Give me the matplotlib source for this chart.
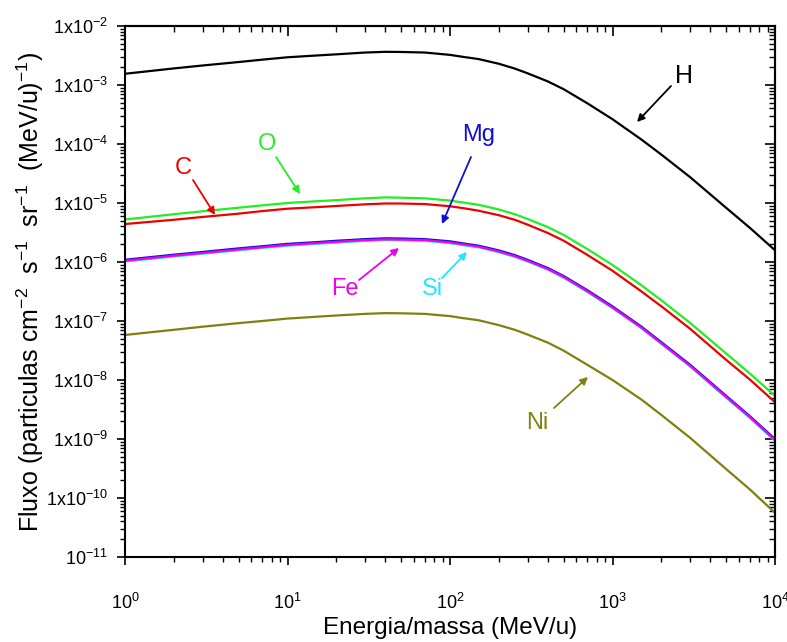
import numpy as np
import matplotlib
matplotlib.use("Agg")
import matplotlib.pyplot as plt
from matplotlib.ticker import LogLocator, FixedLocator, FixedFormatter, NullFormatter

plt.rcParams['font.family'] = ['Liberation Sans', 'DejaVu Sans']
plt.rcParams['mathtext.fontset'] = 'custom'
plt.rcParams['mathtext.rm'] = 'Liberation Sans'
plt.rcParams['mathtext.it'] = 'Liberation Sans:italic'
plt.rcParams['mathtext.bf'] = 'Liberation Sans:bold'

# Energy per nucleon (MeV/u)
energy = [1, 2, 3, 5, 7, 10, 15, 20, 30, 40, 50, 70, 100, 120, 150, 200, 250,
          300, 400, 500, 700, 1000, 1500, 2000, 3000, 5000, 7000, 10000]

flux_H = [1.55e-3, 1.91e-3, 2.14e-3, 2.45e-3, 2.69e-3, 2.95e-3, 3.16e-3, 3.31e-3,
          3.55e-3, 3.65e-3, 3.63e-3, 3.55e-3, 3.24e-3, 3.0e-3, 2.75e-3, 2.29e-3,
          1.9e-3, 1.58e-3, 1.15e-3, 8.5e-4, 4.9e-4, 2.63e-4, 1.2e-4, 6.6e-5,
          2.75e-5, 8.3e-6, 3.8e-6, 1.58e-6]
flux_O = [5.25e-6, 6.46e-6, 7.24e-6, 8.32e-6, 9.12e-6, 1.0e-5, 1.07e-5, 1.12e-5,
          1.2e-5, 1.245e-5, 1.23e-5, 1.2e-5, 1.1e-5, 1.02e-5, 9.33e-6, 7.76e-6,
          6.46e-6, 5.37e-6, 3.9e-6, 2.88e-6, 1.66e-6, 8.9e-7, 4.07e-7, 2.24e-7,
          9.3e-8, 2.82e-8, 1.29e-8, 5.37e-9]
flux_C = [4.4e-6, 5.2e-6, 5.8e-6, 6.6e-6, 7.3e-6, 8.0e-6, 8.5e-6, 8.9e-6,
          9.5e-6, 9.8e-6, 9.8e-6, 9.6e-6, 8.8e-6, 8.2e-6, 7.4e-6, 6.2e-6,
          5.2e-6, 4.3e-6, 3.1e-6, 2.3e-6, 1.32e-6, 7.1e-7, 3.2e-7, 1.77e-7,
          7.4e-8, 2.2e-8, 1.02e-8, 4.2e-9]
flux_Mg = [1.09e-6, 1.33e-6, 1.48e-6, 1.70e-6, 1.85e-6, 2.03e-6, 2.17e-6, 2.29e-6,
           2.44e-6, 2.52e-6, 2.50e-6, 2.44e-6, 2.24e-6, 2.07e-6, 1.89e-6, 1.57e-6,
           1.31e-6, 1.09e-6, 7.9e-7, 5.8e-7, 3.33e-7, 1.77e-7, 8.1e-8, 4.37e-8,
           1.82e-8, 5.4e-9, 2.44e-9, 1.0e-9]
flux_Si = [1.02e-6, 1.24e-6, 1.38e-6, 1.58e-6, 1.73e-6, 1.89e-6, 2.03e-6, 2.13e-6,
           2.28e-6, 2.35e-6, 2.33e-6, 2.28e-6, 2.09e-6, 1.93e-6, 1.77e-6, 1.46e-6,
           1.22e-6, 1.02e-6, 7.4e-7, 5.4e-7, 3.1e-7, 1.65e-7, 7.6e-8, 4.07e-8,
           1.70e-8, 5.0e-9, 2.28e-9, 9.3e-10]
flux_Fe = [1.05e-6, 1.28e-6, 1.42e-6, 1.63e-6, 1.78e-6, 1.95e-6, 2.09e-6, 2.2e-6,
           2.35e-6, 2.42e-6, 2.4e-6, 2.35e-6, 2.15e-6, 1.99e-6, 1.82e-6, 1.51e-6,
           1.26e-6, 1.05e-6, 7.6e-7, 5.6e-7, 3.2e-7, 1.7e-7, 7.8e-8, 4.2e-8,
           1.75e-8, 5.2e-9, 2.35e-9, 9.6e-10]
flux_Ni = [5.8e-8, 7.1e-8, 8.0e-8, 9.2e-8, 1.0e-7, 1.1e-7, 1.18e-7, 1.24e-7,
           1.32e-7, 1.36e-7, 1.35e-7, 1.32e-7, 1.21e-7, 1.12e-7, 1.03e-7, 8.5e-8,
           7.1e-8, 5.9e-8, 4.3e-8, 3.15e-8, 1.81e-8, 1.0e-8, 4.7e-9, 2.55e-9,
           1.05e-9, 3.1e-10, 1.4e-10, 5.6e-11]

y_ticks = [1e-11, 1e-10, 1e-9, 1e-8, 1e-7, 1e-6, 1e-5, 1e-4, 1e-3, 1e-2]
y_ticklabels = [r"10$^{-11}$", r"1x10$^{-10}$", r"1x10$^{-9}$", r"1x10$^{-8}$",
                r"1x10$^{-7}$", r"1x10$^{-6}$", r"1x10$^{-5}$", r"1x10$^{-4}$",
                r"1x10$^{-3}$", r"1x10$^{-2}$"]
x_ticks = [1, 10, 100, 1000, 10000]
x_ticklabels = [r"10$^{0}$", r"10$^{1}$", r"10$^{2}$", r"10$^{3}$", r"10$^{4}$"]

series = [
    ("H", flux_H, "#000000"),
    ("O", flux_O, "#22ee22"),
    ("C", flux_C, "#ee0000"),
    ("Mg", flux_Mg, "#1010cc"),
    ("Si", flux_Si, "#22e5ff"),
    ("Fe", flux_Fe, "#ee00ee"),
    ("Ni", flux_Ni, "#808010"),
]

W, H = 787, 642
fig = plt.figure(figsize=(W / 100, H / 100), dpi=100)
ax = fig.add_axes([125 / W, 1 - 557 / H, 650 / W, 531 / H])

for name, vals, col in series:
    ax.plot(energy, vals, color=col, lw=1.6, solid_joinstyle='round')

ax.set_xscale('log')
ax.set_yscale('log')
ax.set_xlim(1, 1e4)
ax.set_ylim(1e-11, 1e-2)

ax.xaxis.set_major_locator(FixedLocator(x_ticks))
ax.xaxis.set_major_formatter(FixedFormatter(x_ticklabels))
ax.xaxis.set_minor_locator(LogLocator(base=10, subs=np.arange(2, 10), numticks=100))
ax.xaxis.set_minor_formatter(NullFormatter())
ax.yaxis.set_major_locator(FixedLocator(y_ticks))
ax.yaxis.set_major_formatter(FixedFormatter(y_ticklabels))
ax.yaxis.set_minor_locator(LogLocator(base=10, subs=np.arange(2, 10), numticks=100))
ax.yaxis.set_minor_formatter(NullFormatter())

ax.tick_params(axis='both', which='major', direction='out', length=6, width=1.2,
               labelsize=13, colors='black')
ax.tick_params(axis='y', which='major', pad=6)
ax.tick_params(axis='x', which='major', pad=20)
ax.tick_params(axis='both', which='minor', direction='out', length=3.5, width=1.0)
for sp in ax.spines.values():
    sp.set_linewidth(1.5)

# top and right axes with inward ticks
secx = ax.secondary_xaxis('top')
secx.xaxis.set_major_locator(FixedLocator(x_ticks))
secx.xaxis.set_minor_locator(LogLocator(base=10, subs=np.arange(2, 10), numticks=100))
secx.tick_params(which='major', direction='in', length=7, width=1.2, labeltop=False)
secx.tick_params(which='minor', direction='in', length=4, width=1.0)
secx.xaxis.set_major_formatter(NullFormatter())
secx.xaxis.set_minor_formatter(NullFormatter())
secx.spines['top'].set_linewidth(1.5)

secy = ax.secondary_yaxis('right')
secy.yaxis.set_major_locator(FixedLocator(y_ticks))
secy.yaxis.set_minor_locator(LogLocator(base=10, subs=np.arange(2, 10), numticks=100))
secy.tick_params(which='major', direction='in', length=7, width=1.2, labelright=False)
secy.tick_params(which='minor', direction='in', length=4, width=1.0)
secy.yaxis.set_major_formatter(NullFormatter())
secy.yaxis.set_minor_formatter(NullFormatter())
secy.spines['right'].set_linewidth(1.5)

ax.set_xlabel("Energia/massa (MeV/u)", fontsize=17.5, labelpad=3)
ax.set_ylabel(r"Fluxo (particulas cm$^{-2}$  s$^{-1}$  sr$^{-1}$  (MeV/u)$^{-1}$)",
              fontsize=18, labelpad=0)


def fpos(px, py):
    return (px / W, 1 - py / H)


# (label, color, text position px, arrow tail px, arrow head px, fontsize)
labels = [
    ("H", "#000000", (684, 76), (671, 86), (637, 122), 18),
    ("Mg", "#1010cc", (479, 135), (471, 157), (442, 224), 17),
    ("O", "#22ee22", (267, 144), (276, 157), (300, 194), 17),
    ("C", "#ee0000", (183, 168), (193, 180), (215, 215), 17),
    ("Fe", "#ee00ee", (345, 289), (359, 280), (399, 248), 17),
    ("Si", "#22e5ff", (432, 289), (442, 278), (467, 252), 17),
    ("Ni", "#808010", (537, 423), (554, 408), (588, 377), 17),
]
for txt, col, tp, tail, head, fs in labels:
    fig.text(*fpos(*tp), txt, color=col, fontsize=fs, ha='center', va='center')
    ax.annotate('', xy=fpos(*head), xycoords='figure fraction',
                xytext=fpos(*tail), textcoords='figure fraction',
                arrowprops=dict(arrowstyle='-|>', color=col, lw=1.3,
                                mutation_scale=11, shrinkA=0, shrinkB=0))

fig.savefig("out.png", dpi=100)
